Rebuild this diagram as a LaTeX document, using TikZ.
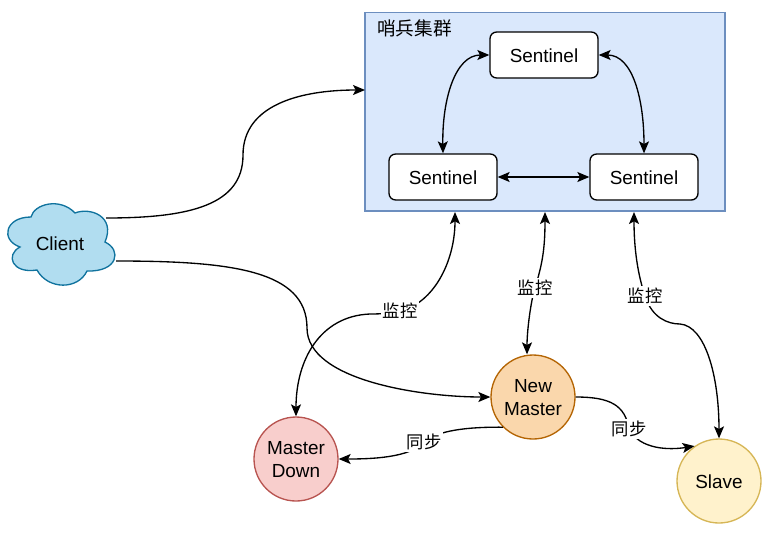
\documentclass[tikz,border=0pt]{standalone}
\usepackage{xcolor}
\usepackage{fontspec}
\setmainfont{Liberation Sans}
\newfontfamily\cjk{Noto Sans CJK SC}
\usetikzlibrary{arrows.meta}

\definecolor{clusterfill}{HTML}{DAE8FC}
\definecolor{clusterline}{HTML}{6C8EBF}
\definecolor{clientfill}{HTML}{B1DDF0}
\definecolor{clientline}{HTML}{10739E}
\definecolor{newfill}{HTML}{FAD7AC}
\definecolor{newline}{HTML}{B46504}
\definecolor{downfill}{HTML}{F8CECC}
\definecolor{downline}{HTML}{B85450}
\definecolor{slavefill}{HTML}{FFF2CC}
\definecolor{slaveline}{HTML}{D6B656}

\newcommand{\nudge}[1]{\raisebox{-0.75pt}[\height][\depth]{#1}}

\tikzset{
    sentinelbox/.style={draw=black, line width=1pt, fill=white, rounded corners=5pt, minimum width=81pt, minimum height=34.5pt, inner sep=0pt, font=\fontsize{14.2pt}{17pt}\selectfont},
    redis/.style={circle, line width=1pt, minimum size=63pt, inner sep=0pt, align=center, font=\fontsize{14.2pt}{17.2pt}\selectfont},
    link/.style={line width=1pt, -{Stealth[inset=2pt, length=9pt, width=7.5pt]}},
    bilink/.style={line width=1pt, {Stealth[inset=2pt, length=9pt, width=7.5pt]}-{Stealth[inset=2pt, length=9pt, width=7.5pt]}},
    tag/.style={fill=white, inner sep=1.5pt, font=\cjk\fontsize{13pt}{15pt}\selectfont}
}

\begin{document}
\begin{tikzpicture}[x=0.75pt, y=-0.75pt]
    \useasboundingbox (0,0) rectangle (777,532);

    %% cluster
    \node[draw=clusterline, fill=clusterfill, line width=1pt, minimum width=270pt, minimum height=149pt, inner sep=0pt] (cluster) at (545,111.5) {};
    \node[font=\cjk\fontsize{14pt}{16pt}\selectfont, inner sep=0pt] (clustername) at (414.5,28) {哨兵集群};
    \node[sentinelbox] (top)   at (544,55)  {\nudge{Sentinel}};
    \node[sentinelbox] (left)  at (443,177) {\nudge{Sentinel}};
    \node[sentinelbox] (right) at (644,177) {\nudge{Sentinel}};

    \draw[bilink] (top.west)  .. controls (455,55) and (442,100) .. (left.north);
    \draw[bilink] (top.east)  .. controls (633,55) and (644,100) .. (right.north);
    \draw[bilink] (left.east) -- (right.west);

    %% client
    \draw[clientline, fill=clientfill, line width=1pt] (31,217)
        .. controls (34,204) and (60,197) .. (75,213)
        .. controls (90,207) and (116,216) .. (105,242)
        .. controls (122,250) and (118,272) .. (87,271)
        .. controls (78,290) and (48,290) .. (37,270)
        .. controls (12,274) and (5,255) .. (20,247)
        .. controls (0,240) and (5,217) .. (31,217) -- cycle;
    \node[font=\fontsize{14.2pt}{17pt}\selectfont, inner sep=0pt] (client) at (60,243) {\nudge{Client}};

    %% redis
    \node[redis, draw=newline, fill=newfill] (newmaster) at (533,397) {\nudge{New}\\\nudge{Master}};
    \node[redis, draw=downline, fill=downfill] (masterdown) at (296,459) {\nudge{Master}\\\nudge{Down}};
    \node[redis, draw=slaveline, fill=slavefill] (slave) at (719,481) {\nudge{Slave}};

    %% free ends
    \coordinate (clientup)   at (106,218);
    \coordinate (clientdown) at (116,261);
    \coordinate (clusterin)  at (365,90);
    \coordinate (watchleft)  at (455,212);
    \coordinate (watchmid)   at (545,212);
    \coordinate (watchright) at (634,212);

    %% client links
    \draw[link] (clientup) .. controls (190,218) and (243,205) .. (243,155) .. controls (243,105) and (300,90) .. (clusterin);
    \draw[link] (clientdown) .. controls (230,261) and (307,270) .. (307,328) .. controls (307,380) and (420,397) .. (newmaster.west);

    %% watch
    \draw[bilink] (watchleft) .. controls (455,255) and (440,290) .. (415,305) .. controls (400,313) and (385,314) .. (370,314) .. controls (320,316) and (296,360) .. (masterdown.north);
    \node[tag] (tagleft) at (400,311) {监控};
    \draw[bilink] (watchmid) .. controls (545,250) and (542,265) .. (535,288) .. controls (531,300) and (527,330) .. (newmaster.north -| 527,0);
    \node[tag] (tagmid) at (535,288) {监控};
    \draw[bilink] (watchright) .. controls (634,250) and (638,275) .. (645,296) .. controls (652,318) and (668,324) .. (680,324) .. controls (705,326) and (719,375) .. (slave.north);
    \node[tag] (tagright) at (645,296) {监控};

    %% sync
    \draw[link] (newmaster.225) .. controls (480,427) and (440,428) .. (424,442) .. controls (410,458) and (370,459) .. (masterdown.east);
    \node[tag] (tagdown) at (424,442) {同步};
    \draw[link] (newmaster.east) .. controls (610,397) and (625,405) .. (629,429) .. controls (640,450) and (670,450) .. (slave.125);
    \node[tag] (tagslave) at (629,429) {同步};
\end{tikzpicture}
\end{document}
